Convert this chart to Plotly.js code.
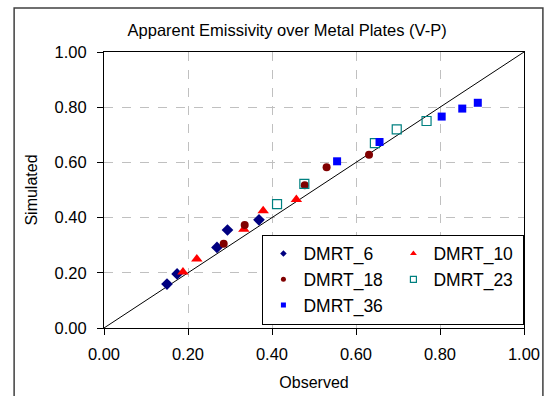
<!DOCTYPE html>
<html>
<head>
<meta charset="utf-8">
<script src="https://cdn.plot.ly/plotly-3.0.1.min.js"></script>
<style>html,body{margin:0;padding:0;background:#fff;}#chart{width:550px;height:396px;}</style>
</head>
<body>
<div id="chart"></div>
<script>
// Data (Observed, Simulated)
const dmrt6_x  = [0.150, 0.174, 0.269, 0.294, 0.369];
const dmrt6_y  = [0.159, 0.196, 0.292, 0.355, 0.392];
const dmrt10_x = [0.188, 0.221, 0.333, 0.379, 0.458];
const dmrt10_y = [0.203, 0.250, 0.358, 0.425, 0.466];
const dmrt18_x = [0.285, 0.335, 0.478, 0.530, 0.631];
const dmrt18_y = [0.305, 0.373, 0.517, 0.582, 0.628];
const dmrt23_x = [0.412, 0.477, 0.645, 0.697, 0.768];
const dmrt23_y = [0.449, 0.522, 0.670, 0.720, 0.750];
const dmrt36_x = [0.555, 0.656, 0.804, 0.853, 0.890];
const dmrt36_y = [0.604, 0.674, 0.766, 0.795, 0.816];
const seriesNames = ['DMRT_6', 'DMRT_10', 'DMRT_18', 'DMRT_23', 'DMRT_36'];
const lineX = [0, 1];
const lineY = [0, 1];
const tickVals = [0, 0.2, 0.4, 0.6, 0.8, 1.0];
const tickText = ['0.00', '0.20', '0.40', '0.60', '0.80', '1.00'];

const FONT = 'Liberation Sans, Arial, sans-serif';

const styles = [
  {symbol: 'diamond', size: 9, color: '#000080', lsize: 5},
  {symbol: 'triangle-up', size: 10, color: '#FF0000', lsize: 6},
  {symbol: 'circle', size: 8, color: '#800000', lsize: 5},
  {symbol: 'square-open', size: 9, color: '#008080', lsize: 6, line: {width: 1.2, color: '#008080'}},
  {symbol: 'square', size: 8, color: '#0000FF', lsize: 5}
];
const xs = [dmrt6_x, dmrt10_x, dmrt18_x, dmrt23_x, dmrt36_x];
const ys = [dmrt6_y, dmrt10_y, dmrt18_y, dmrt23_y, dmrt36_y];

const traces = [
  {x: lineX, y: lineY, mode: 'lines', line: {color: '#000000', width: 1}, showlegend: false, hoverinfo: 'skip'}
];
seriesNames.forEach((n, i) => {
  const s = styles[i];
  traces.push({x: xs[i], y: ys[i], name: n, mode: 'markers', type: 'scatter', showlegend: false,
    marker: {symbol: s.symbol, size: s.size, color: s.color, line: s.line || {width: 0}}});
});
// legend entries with the smaller legend-key markers of the reference
seriesNames.forEach((n, i) => {
  const s = styles[i];
  traces.push({x: [null], y: [null], name: n, mode: 'markers', type: 'scatter', showlegend: true,
    marker: {symbol: s.symbol, size: s.lsize, color: s.color, line: s.line || {width: 0}}});
});

const axisCommon = {
  range: [0, 1],
  tickvals: tickVals,
  ticktext: tickText,
  ticks: 'outside',
  ticklen: 6,
  tickcolor: '#000',
  tickfont: {family: FONT, size: 16.5, color: '#000'},
  showline: true,
  linecolor: '#000',
  linewidth: 1,
  mirror: true,
  showgrid: true,
  gridcolor: '#c0c0c0',
  griddash: 'dash',
  gridwidth: 1,
  zeroline: false,
  fixedrange: true
};

const layout = {
  width: 550,
  height: 396,
  margin: {l: 104, r: 26, t: 52, b: 68},
  paper_bgcolor: '#ffffff',
  plot_bgcolor: '#ffffff',
  font: {family: FONT, color: '#000'},
  title: {text: 'Apparent Emissivity over Metal Plates (V-P)', font: {family: FONT, size: 16.5, color: '#000'},
          x: 0.436, xref: 'paper', xanchor: 'center', y: 0.924, yref: 'container', yanchor: 'middle'},
  xaxis: Object.assign({}, axisCommon, {ticklabelstandoff: 5,
    title: {text: 'Observed', font: {family: FONT, size: 16, color: '#000'}, standoff: 15}}),
  yaxis: Object.assign({}, axisCommon, {ticklabelstandoff: 7,
    title: {text: 'Simulated', font: {family: FONT, size: 16, color: '#000'}, standoff: 12}}),
  legend: {
    orientation: 'h',
    x: 1.001, xanchor: 'right',
    y: 0.012, yanchor: 'bottom',
    entrywidth: 85,
    bgcolor: '#ffffff',
    bordercolor: '#000000',
    borderwidth: 1,
    font: {family: FONT, size: 17.5, color: '#000'},
    itemsizing: 'trace'
  },
  shapes: [
    {type: 'rect', xref: 'paper', yref: 'paper', x0: -0.214, x1: 1.045, y0: -0.3, y1: 1.159,
     line: {color: '#404040', width: 1.5}, layer: 'below'}
  ],
  showlegend: true
};

Plotly.newPlot('chart', traces, layout, {displayModeBar: false, staticPlot: true});
</script>
</body>
</html>
